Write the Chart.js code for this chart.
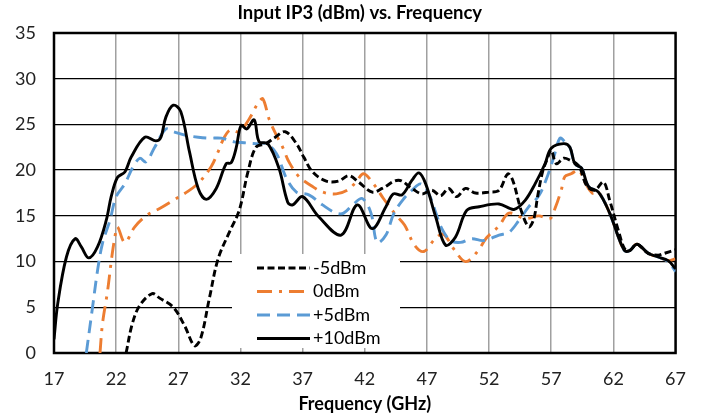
<!DOCTYPE html>
<html><head><meta charset="utf-8">
<script src="https://cdn.jsdelivr.net/npm/chart.js@4.4.1/dist/chart.umd.min.js"></script>
<style>html,body{margin:0;padding:0;background:#fff;}</style>
</head><body>
<canvas id="c" width="701" height="416"></canvas>
<script>
const chartTitle = 'Input IP3 (dBm) vs. Frequency';
const xTitle = 'Frequency (GHz)';
const seriesNames = ['-5dBm', '0dBm', '+5dBm', '+10dBm'];

const m5Freq = [22.8, 23.3, 23.9, 24.9, 25.5, 26.6, 27.5, 28.3, 28.8, 29.5, 30.2, 31.1, 31.9, 32.6, 33.25, 34.05, 34.7, 35.6, 36.5, 37.1, 37.8, 38.9, 39.9, 40.7, 41.5, 42.6, 43.4, 44.7, 45.8, 46.6, 47.4, 48.1, 48.75, 49.4, 50.1, 50.9, 52.0, 52.8, 53.5, 53.9, 54.6, 55.2, 55.6, 55.9, 56.3, 56.7, 57.0, 57.4, 58.0, 58.5, 59.2, 59.85, 60.5, 61.2, 61.7, 62.4, 62.9, 63.3, 63.9, 64.8, 65.6, 66.1, 67];
const m5Val  = [0, 3.2, 5.2, 6.5, 6.0, 5.0, 3.0, 0.8, 1.6, 6.0, 10.3, 13.2, 15.6, 19.8, 22.5, 22.9, 23.5, 24.2, 22.9, 21.4, 19.8, 18.8, 18.8, 19.4, 18.7, 17.6, 18.0, 18.9, 18.0, 17.4, 17.8, 17.2, 18.0, 17.1, 18.0, 17.5, 17.6, 17.8, 19.6, 18.9, 15.5, 13.8, 14.7, 17.1, 19.8, 21.3, 22.2, 20.7, 21.3, 21.1, 20.5, 18.3, 17.8, 18.7, 16.7, 13.4, 11.4, 11.2, 11.9, 10.9, 10.7, 10.9, 11.3];

const z0Freq = [20.7, 20.9, 21.3, 21.65, 21.9, 22.1, 22.7, 23.5, 24.5, 25.5, 26.6, 27.8, 28.7, 29.65, 30.2, 30.7, 31.2, 31.9, 32.7, 33.4, 33.8, 34.3, 34.9, 35.4, 35.9, 36.7, 37.7, 38.6, 39.7, 40.6, 41.3, 41.9, 42.7, 43.5, 44.5, 45.2, 46.0, 46.75, 47.6, 48.3, 49.2, 50.1, 51.0, 51.8, 52.8, 53.6, 54.9, 56.0, 56.9, 57.3, 57.8, 58.1, 58.6, 59.2, 59.7, 60.3, 60.8, 61.7, 62.4, 62.9, 63.3, 63.9, 64.8, 65.6, 66.4, 67];
const z0Val  = [0, 3.2, 6.7, 10.5, 12.7, 13.8, 12.1, 13.8, 15.1, 15.8, 16.7, 17.7, 18.7, 20.4, 22.0, 23.6, 24.4, 24.2, 25.6, 27.3, 27.8, 25.6, 23.8, 22.5, 20.9, 19.3, 18.3, 17.6, 17.4, 17.8, 18.7, 19.6, 18.5, 16.9, 15.1, 14.0, 11.8, 11.1, 12.4, 13.0, 11.3, 10.0, 11.0, 12.6, 13.9, 15.3, 14.7, 15.0, 14.7, 15.8, 17.8, 19.3, 19.6, 20.0, 18.7, 17.5, 17.6, 15.3, 12.7, 11.2, 11.2, 11.9, 10.9, 10.5, 10.1, 10.3];

const p5Freq = [19.6, 20.1, 20.5, 20.9, 21.5, 22.0, 22.7, 23.3, 23.9, 24.4, 25.1, 26.0, 26.6, 27.6, 28.6, 29.5, 30.45, 31.5, 32.3, 33.25, 34.05, 34.9, 35.7, 36.5, 37.5, 38.6, 39.7, 40.3, 41.1, 41.8, 42.5, 43.0, 43.7, 44.35, 45.15, 45.8, 46.5, 47.15, 47.7, 48.2, 48.9, 49.7, 50.6, 51.55, 52.8, 53.6, 54.4, 55.2, 56.0, 56.6, 57.2, 57.7, 58.1, 58.5, 58.9, 59.45, 60.0, 60.8, 61.7, 62.4, 62.9, 63.3, 63.9, 64.8, 65.6, 66.4, 67];
const p5Val  = [0, 5.0, 9.0, 12.0, 14.5, 17.1, 18.5, 20.2, 21.3, 20.9, 22.5, 24.5, 24.2, 23.8, 23.6, 23.5, 23.5, 23.1, 23.0, 22.9, 22.9, 21.8, 19.1, 17.6, 17.3, 16.2, 15.3, 15.3, 16.3, 16.9, 15.3, 12.1, 12.9, 15.3, 16.9, 17.8, 18.5, 17.4, 15.4, 13.6, 12.3, 12.1, 12.5, 12.3, 12.9, 13.2, 14.5, 16.0, 17.2, 19.0, 21.4, 23.5, 23.1, 22.5, 20.7, 20.2, 18.2, 17.6, 15.3, 12.7, 11.2, 11.2, 11.9, 10.9, 10.5, 10.0, 8.9];

const p10Freq = [17, 17.3, 18.0, 18.7, 19.2, 19.8, 20.5, 21.2, 21.6, 22.1, 22.7, 23.2, 24.3, 25.2, 25.6, 26.0, 26.6, 27.2, 27.9, 28.6, 29.25, 30.05, 30.85, 31.25, 31.65, 32.05, 32.5, 33.1, 33.5, 34.2, 35.1, 35.8, 36.2, 37.0, 38.3, 40.1, 41.4, 42.6, 43.7, 44.3, 45.0, 45.8, 46.35, 46.9, 47.7, 48.5, 49.3, 50.2, 51.2, 52.8, 54.0, 54.9, 55.7, 56.5, 57.0, 58.0, 58.5, 58.9, 59.45, 60.0, 60.8, 61.7, 62.4, 62.9, 63.3, 63.9, 64.8, 65.6, 66.4, 67];
const p10Val  = [1.5, 5.4, 10.5, 12.5, 11.6, 10.4, 11.6, 14.5, 17.1, 19.2, 19.8, 21.4, 23.6, 23.2, 23.6, 25.8, 27.1, 26.4, 22.0, 18.0, 16.8, 18.0, 20.7, 20.8, 22.4, 24.9, 24.5, 25.5, 23.1, 22.9, 20.2, 16.5, 16.2, 17.1, 14.9, 12.9, 16.2, 13.6, 16.0, 17.4, 17.3, 18.9, 19.7, 18.5, 14.9, 11.8, 12.7, 15.6, 16.0, 16.3, 15.7, 16.7, 18.5, 20.7, 22.4, 22.9, 22.5, 20.7, 20.2, 18.2, 17.6, 15.3, 12.7, 11.2, 11.2, 11.9, 10.9, 10.5, 10.1, 9.2];

const xMin = 17, xMax = 67, xStep = 5;
const yMin = 0, yMax = 35, yStep = 5;

const toXY = (fs, vs) => fs.map((f, i) => ({x: f, y: vs[i]}));

const FONT = 'Lato';

const overlay = {
  id: 'overlay',
  beforeDatasetsDraw(chart) {
    const {ctx, chartArea: a} = chart;
    ctx.save();
    ctx.fillStyle = '#fff';
    ctx.fillRect(232, 254, 168, 94);
    ctx.strokeStyle = '#000';
    ctx.lineWidth = 2.5;
    ctx.strokeRect(a.left, a.top, a.right - a.left, a.bottom - a.top);
    ctx.restore();
  },
  afterDatasetsDraw(chart) {
    const {ctx, chartArea: a} = chart;
    ctx.save();
    const rows = [268, 291.5, 315, 338.5];
    chart.data.datasets.forEach((ds, i) => {
      const y = rows[i];
      ctx.strokeStyle = ds.borderColor;
      ctx.lineWidth = ds.borderWidth;
      ctx.setLineDash(ds.borderDash || []);
      ctx.beginPath();
      ctx.moveTo(257, y);
      ctx.lineTo(310, y);
      ctx.stroke();
      ctx.setLineDash([]);
      ctx.fillStyle = '#000';
      ctx.font = '18px ' + FONT;
      ctx.textBaseline = 'middle';
      ctx.textAlign = 'left';
      ctx.fillText(ds.label, 313, y);
    });
    ctx.font = 'bold 18.5px ' + FONT;
    ctx.textAlign = 'center';
    ctx.textBaseline = 'middle';
    ctx.fillStyle = '#000';
    ctx.fillText(chartTitle, (a.left + a.right) / 2 - 5, 13);
    ctx.restore();
  }
};

new Chart(document.getElementById('c'), {
  type: 'line',
  data: {
    datasets: [
      {label: seriesNames[0], data: toXY(m5Freq, m5Val), borderColor: '#000000', borderDash: [7, 3.5], borderWidth: 2.9, order: 2},
      {label: seriesNames[1], data: toXY(z0Freq, z0Val), borderColor: '#ED7D31', borderDash: [15, 7, 3, 7], borderWidth: 2.9, order: 4},
      {label: seriesNames[2], data: toXY(p5Freq, p5Val), borderColor: '#5B9BD5', borderDash: [13, 7], borderWidth: 2.9, order: 3},
      {label: seriesNames[3], data: toXY(p10Freq, p10Val), borderColor: '#000000', borderDash: [], borderWidth: 2.9, order: 1}
    ]
  },
  options: {
    responsive: false,
    animation: false,
    devicePixelRatio: 1,
    layout: {padding: {top: 33, right: 23, left: 0, bottom: 0}},
    elements: {point: {radius: 0}, line: {tension: 0.35, fill: false}},
    plugins: {legend: {display: false}, title: {display: false}, tooltip: {enabled: false}},
    scales: {
      x: {
        type: 'linear', min: xMin, max: xMax,
        afterFit: s => { s.height = 63; },
        ticks: {stepSize: xStep, color: '#222', font: {family: FONT, size: 18}, padding: 15, maxRotation: 0},
        grid: {color: '#A0A0A0', lineWidth: 1.5, drawTicks: false},
        border: {display: false},
        title: {display: true, text: xTitle, color: '#000', font: {family: FONT, size: 18, weight: 'bold'}, padding: {top: 0, bottom: 1}}
      },
      y: {
        min: yMin, max: yMax,
        afterFit: s => { s.width = 54; },
        ticks: {stepSize: yStep, color: '#222', font: {family: FONT, size: 18}, padding: 18},
        grid: {color: '#000', lineWidth: 1.3, drawTicks: false},
        border: {display: false}
      }
    }
  },
  plugins: [overlay]
});
</script>
</body></html>
